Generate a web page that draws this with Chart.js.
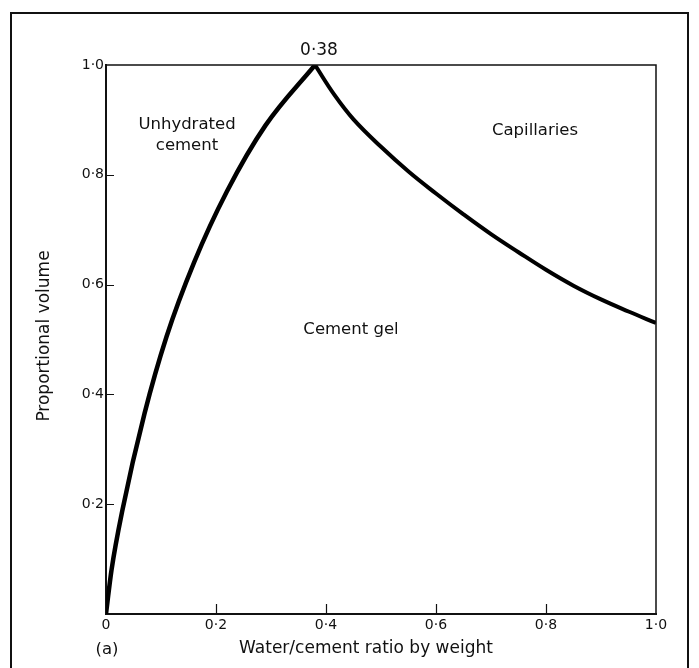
<!DOCTYPE html>
<html>
<head>
<meta charset="utf-8">
<script src="https://cdn.jsdelivr.net/npm/chart.js@4.4.1/dist/chart.umd.min.js"></script>
<style>
  html, body { margin: 0; padding: 0; background: #fff; }
  canvas { display: block; }
</style>
</head>
<body>
<canvas id="chart" width="699" height="668"></canvas>
<script>
// water/cement ratio (x) and proportional volume (y)
const leftRatio = [0, 0.01, 0.03, 0.07, 0.11, 0.16, 0.22, 0.29, 0.38];
const leftVolume = [0, 0.08, 0.19, 0.365, 0.505, 0.64, 0.77, 0.89, 1.0];

const rightRatio = [0.38, 0.415, 0.45, 0.5, 0.55, 0.6, 0.65, 0.7, 0.75, 0.8, 0.85, 0.9, 0.95, 1.0];
const rightVolume = [1.0, 0.946, 0.901, 0.851, 0.806, 0.766, 0.728, 0.692, 0.659, 0.627, 0.598, 0.573, 0.551, 0.53];

const xTicks = [0, 0.2, 0.4, 0.6, 0.8, 1.0];
const yTicks = [0, 0.2, 0.4, 0.6, 0.8, 1.0];

const FONT = "'DejaVu Sans', sans-serif";

function fmt(v) {
  if (v === 0) return "0";
  return v.toFixed(1).replace(".", "\u00b7");
}

function toPoints(xs, ys) {
  return xs.map((x, i) => ({ x: x, y: ys[i] }));
}

// frame, top/right border, inward ticks and the area labels
const decorations = {
  id: "decorations",
  afterDraw(chart) {
    const ctx = chart.ctx;
    const a = chart.chartArea;
    const xs = chart.scales.x;
    const ys = chart.scales.y;
    ctx.save();
    ctx.strokeStyle = "#111";

    // outer frame
    ctx.lineWidth = 2;
    ctx.strokeRect(11, 13, 677, 700);

    // top and right edges of the plot
    ctx.lineWidth = 1.5;
    ctx.beginPath();
    ctx.moveTo(a.left, a.top);
    ctx.lineTo(a.right, a.top);
    ctx.lineTo(a.right, a.bottom);
    ctx.stroke();

    // inward tick marks
    ctx.lineWidth = 1.2;
    ctx.beginPath();
    xTicks.slice(1, -1).forEach(t => {
      const px = Math.round(xs.getPixelForValue(t)) + 0.5;
      ctx.moveTo(px, a.bottom);
      ctx.lineTo(px, a.bottom - 10);
    });
    yTicks.slice(1, -1).forEach(t => {
      const py = Math.round(ys.getPixelForValue(t)) + 0.5;
      ctx.moveTo(a.left, py);
      ctx.lineTo(a.left + 8, py);
    });
    ctx.stroke();

    ctx.fillStyle = "#111";
    ctx.textAlign = "center";
    ctx.textBaseline = "middle";

    ctx.font = "17px " + FONT;
    ctx.fillText("0\u00b738", xs.getPixelForValue(0.38) + 4, 51);

    ctx.font = "16.5px " + FONT;
    ctx.fillText("Unhydrated", 187, 125);
    ctx.fillText("cement", 187, 146);
    ctx.fillText("Capillaries", 535, 131);
    ctx.fillText("Cement gel", 351, 330);
    ctx.fillText("(a)", 107, 650);

    ctx.font = "17px " + FONT;
    ctx.fillText("Water/cement ratio by weight", 366, 649);

    ctx.translate(45, 336);
    ctx.rotate(-Math.PI / 2);
    ctx.fillText("Proportional volume", 0, 0);
    ctx.restore();
  }
};

const ctx = document.getElementById("chart").getContext("2d");
const chart = new Chart(ctx, {
  type: "line",
  data: {
    datasets: [
      {
        label: "w/c below 0.38",
        data: toPoints(leftRatio, leftVolume),
        borderColor: "#000",
        borderWidth: 4.5,
        pointRadius: 0,
        cubicInterpolationMode: "monotone",
        fill: false,
      },
      {
        label: "w/c above 0.38",
        data: toPoints(rightRatio, rightVolume),
        borderColor: "#000",
        borderWidth: 4,
        pointRadius: 0,
        tension: 0.4,
        fill: false,
      },
    ],
  },
  options: {
    responsive: false,
    animation: false,
    devicePixelRatio: 1,
    layout: { padding: { top: 65, right: 43, left: 0, bottom: 0 } },
    plugins: {
      legend: { display: false },
      tooltip: { enabled: false },
    },
    scales: {
      x: {
        type: "linear",
        min: 0,
        max: 1,
        afterFit(scale) { scale.height = 54; },
        afterBuildTicks(scale) { scale.ticks = xTicks.map(v => ({ value: v })); },
        grid: { display: false, drawTicks: false },
        border: { display: true, color: "#111", width: 2 },
        ticks: {
          padding: 3,
          maxRotation: 0,
          color: "#111",
          font: { family: FONT, size: 14 },
          callback: v => fmt(v),
        },
      },
      y: {
        type: "linear",
        min: 0,
        max: 1,
        afterFit(scale) { scale.width = 106; },
        afterBuildTicks(scale) { scale.ticks = yTicks.map(v => ({ value: v })); },
        grid: { display: false, drawTicks: false },
        border: { display: true, color: "#111", width: 2 },
        ticks: {
          padding: 2,
          color: "#111",
          font: { family: FONT, size: 14 },
          callback: v => (v === 0 ? "" : fmt(v)),
        },
      },
    },
  },
  plugins: [decorations],
});
</script>
</body>
</html>
